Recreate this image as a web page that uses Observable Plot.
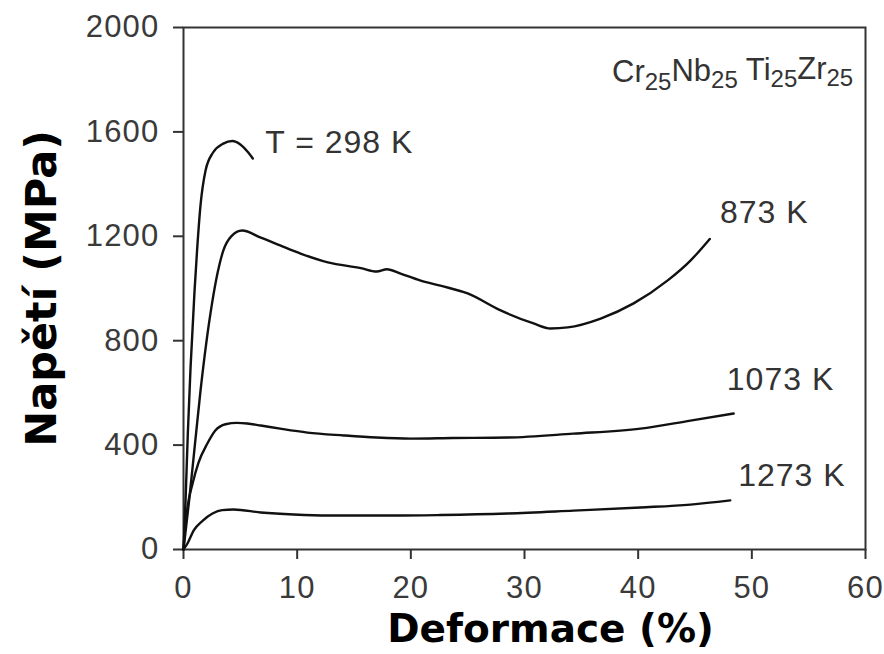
<!DOCTYPE html>
<html><head><meta charset="utf-8">
<script src="https://cdn.jsdelivr.net/npm/d3@7"></script>
<script src="https://cdn.jsdelivr.net/npm/@observablehq/plot@0.6"></script>
<style>body{margin:0;background:#fff}</style>
</head><body><div id="chart"></div>
<script>
// Strain (%) and stress (MPa)
const strain298 = [0, 0.18, 0.38, 0.62, 0.97, 1.2, 1.5, 1.94, 2.6, 3.5, 4.3, 5.0, 5.7, 6.1];
const stress298 = [0, 188, 444, 697, 990, 1150, 1320, 1452, 1521, 1555, 1565, 1552, 1521, 1498];

const strain873 = [0, 0.5, 1.0, 1.5, 2.0, 2.5, 3.0, 3.5, 4.2, 5.16, 6.8, 8.5, 10.3, 12.7, 15.6, 17.0, 17.9, 19.1, 20.8, 22.6, 25.0, 27.9, 30.8, 32.3, 33.8, 36.7, 39.6, 42.6, 44.6, 46.3];
const stress873 = [0, 190, 400, 610, 790, 940, 1060, 1145, 1200, 1222, 1195, 1165, 1134, 1100, 1078, 1065, 1074, 1057, 1031, 1011, 981, 916, 866, 847, 851, 885, 943, 1031, 1107, 1190];

const strain1073 = [0, 0.1, 0.35, 0.8, 1.3, 2.1, 2.8, 3.7, 4.7, 5.6, 6.8, 8.5, 10.9, 14.1, 17, 20, 23.7, 28.5, 34.3, 40.2, 44.6, 48.4];
const stress1073 = [0, 61, 161, 253, 330, 406, 456, 480, 485, 483, 475, 463, 448, 437, 429, 425, 427, 429, 444, 463, 494, 521];

const strain1273 = [0, 0.35, 0.9, 1.7, 2.55, 3.4, 4.4, 6.8, 9.7, 12.7, 15.6, 18.5, 22.6, 28.5, 34.3, 40.2, 44.6, 48.1];
const stress1273 = [0, 23, 73, 111, 138, 151, 153, 142, 134, 130, 130, 130, 132, 138, 149, 161, 172, 188];

const xTicks = [0, 10, 20, 30, 40, 50, 60];
const yTicks = [0, 400, 800, 1200, 1600, 2000];

const labelText = ["T = 298 K", "873 K", "1073 K", "1273 K"];
const labelX = [7.2, 47.2, 47.8, 48.8];
const labelY = [1559, 1292, 649, 281];

const composition = "Cr25Nb25 Ti25Zr25";
const compX = 37.7, compY = 1828;

const xTitle = "Deformace (%)";
const yTitle = "Napětí (MPa)";

const series = [
  {name: "298 K", x: strain298, y: stress298},
  {name: "873 K", x: strain873, y: stress873},
  {name: "1073 K", x: strain1073, y: stress1073},
  {name: "1273 K", x: strain1273, y: stress1273}
];
const rows = series.flatMap(s => s.x.map((v, i) => ({series: s.name, strain: v, stress: s.y[i]})));
const labels = labelText.map((t, i) => ({text: t, x: labelX[i], y: labelY[i]}));

const chart = Plot.plot({
  width: 884, height: 654,
  marginLeft: 183, marginRight: 19, marginTop: 27, marginBottom: 105,
  style: {fontFamily: "'Liberation Sans', Arial, sans-serif", fontSize: "30px", color: "#333", background: "#fff", overflow: "visible"},
  x: {domain: [0, 60]},
  y: {domain: [0, 2000]},
  marks: [
    Plot.frame({stroke: "#333", strokeWidth: 2}),
    Plot.axisX({ticks: xTicks, tickFormat: d => String(d), tickSize: 10, tickPadding: 16, stroke: "#333", strokeWidth: 2, fill: "#3a3a3a", label: null, fontSize: 31}),
    Plot.axisY({ticks: yTicks, tickFormat: d => String(d), tickSize: 10, tickPadding: 14, stroke: "#333", strokeWidth: 2, fill: "#3a3a3a", label: null, fontSize: 31}),
    Plot.line(rows, {x: "strain", y: "stress", z: "series", stroke: "#111", strokeWidth: 2.4, curve: "monotone-x"}),
    Plot.text(labels, {x: "x", y: "y", text: "text", textAnchor: "start", fill: "#333", fontSize: 32}),
    Plot.text([composition], {x: () => compX, y: () => compY, text: d => d, textAnchor: "start", fill: "#333", fontSize: 31}),
    Plot.text([xTitle], {frameAnchor: "bottom", lineAnchor: "middle", dy: 80, dx: 26, text: d => d, fill: "#000", fontWeight: "bold", fontSize: 39, fontFamily: "'DejaVu Sans', Verdana, sans-serif"}),
    Plot.text([yTitle], {frameAnchor: "left", dx: -141, rotate: -90, textAnchor: "middle", text: d => d, fill: "#000", fontWeight: "bold", fontSize: 43, fontFamily: "'DejaVu Sans', Verdana, sans-serif"})
  ]
});
document.getElementById("chart").appendChild(chart);

// wider tick and annotation lettering, as in the reference
d3.select(chart).selectAll("g[aria-label$='tick label'] text").attr("letter-spacing", "1.2px");
d3.select(chart).selectAll("text").filter(function() { return labelText.includes(this.textContent); }).attr("letter-spacing", "1px");

// subscripts for the composition label
d3.select(chart).selectAll("text").filter(function() { return this.textContent === composition; }).each(function() {
  const el = d3.select(this);
  el.text(null);
  const parts = composition.match(/[A-Za-z]+|\d+|\s+/g);
  let down = false;
  parts.forEach(p => {
    if (/^\d+$/.test(p)) {
      el.append("tspan").attr("font-size", 24).attr("dy", "0.3em").text(p);
      down = true;
    } else {
      const t = el.append("tspan").text(p);
      if (down) { t.attr("dy", "-0.27em"); down = false; }
    }
  });
});
</script>
</body></html>
